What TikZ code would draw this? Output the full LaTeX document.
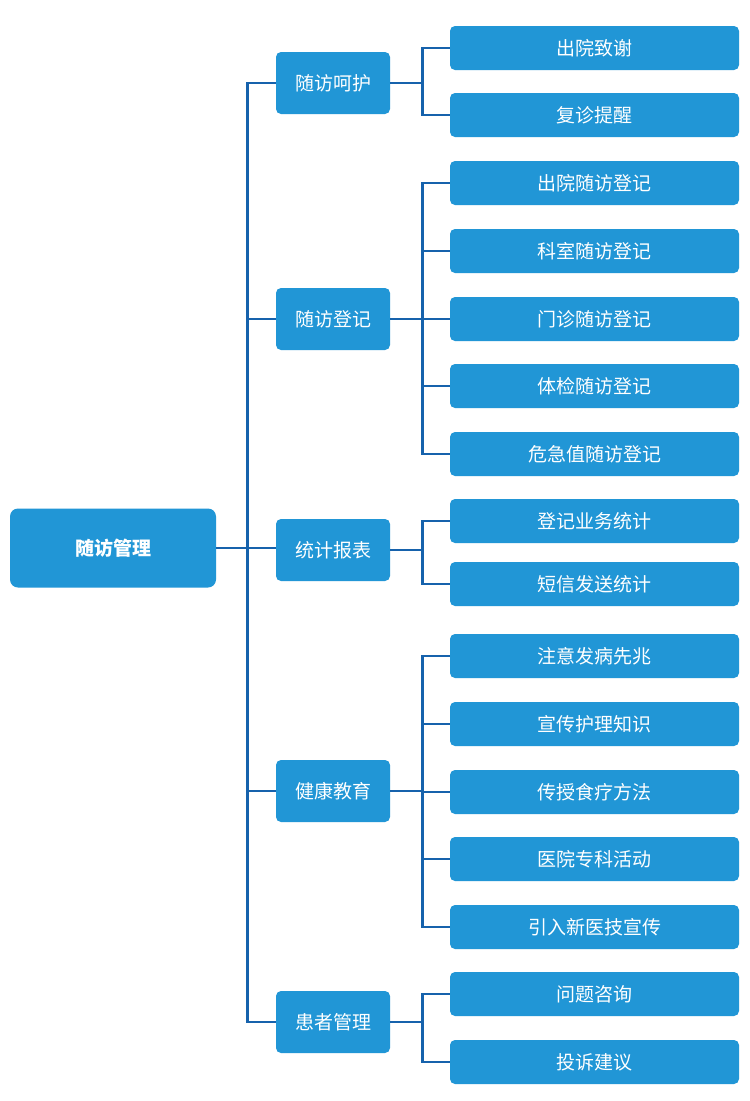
\documentclass[tikz,border=0pt]{standalone}
\usepackage{fontspec}
\newfontfamily\cjk{Noto Sans CJK SC}
\definecolor{boxblue}{RGB}{33,150,214}
\definecolor{lineblue}{RGB}{22,98,172}
\begin{document}
\begin{tikzpicture}[x=1pt,y=-1pt,
  box/.style={fill=boxblue,text=white,inner sep=0pt,font=\cjk\fontsize{19}{21}\selectfont},
  rootbox/.style={box,minimum width=206pt,minimum height=79pt,rounded corners=8pt,font=\cjk\bfseries\fontsize{19}{21}\selectfont},
  midbox/.style={box,minimum width=114pt,minimum height=62pt,rounded corners=5pt},
  leafbox/.style={box,minimum width=289pt,minimum height=44pt,rounded corners=5pt},
  conn/.style={draw=lineblue,line width=2.9pt}]
\useasboundingbox (0,0) rectangle (750,1101);
\fill[white] (0,0) rectangle (750,1101);
\node[rootbox] (root) at (113,548) {随访管理};
\node[midbox] (m1) at (333,83) {随访呵护};
\node[midbox] (m2) at (333,319) {随访登记};
\node[midbox] (m3) at (333,550) {统计报表};
\node[midbox] (m4) at (333,791) {健康教育};
\node[midbox] (m5) at (333,1022) {患者管理};
\node[leafbox] (l1) at (594.5,48) {出院致谢};
\node[leafbox] (l2) at (594.5,115) {复诊提醒};
\node[leafbox] (l3) at (594.5,183) {出院随访登记};
\node[leafbox] (l4) at (594.5,251) {科室随访登记};
\node[leafbox] (l5) at (594.5,319) {门诊随访登记};
\node[leafbox] (l6) at (594.5,386) {体检随访登记};
\node[leafbox] (l7) at (594.5,454) {危急值随访登记};
\node[leafbox] (l8) at (594.5,521) {登记业务统计};
\node[leafbox] (l9) at (594.5,584) {短信发送统计};
\node[leafbox] (l10) at (594.5,656) {注意发病先兆};
\node[leafbox] (l11) at (594.5,724) {宣传护理知识};
\node[leafbox] (l12) at (594.5,792) {传授食疗方法};
\node[leafbox] (l13) at (594.5,859) {医院专科活动};
\node[leafbox] (l14) at (594.5,927) {引入新医技宣传};
\node[leafbox] (l15) at (594.5,994) {问题咨询};
\node[leafbox] (l16) at (594.5,1062) {投诉建议};
% trunk
\draw[conn] (root.east) -- (root.east -| m3.west);
\draw[conn] (m1.west) -- ++(-28,0) |- (m5.west);
\foreach \m in {m2,m4} \draw[conn] (\m.west) -- ++(-28,0);
% branches
\foreach \m/\ls in {m1/{l1,l2},m2/{l3,l4,l5,l6,l7},m3/{l8,l9},m4/{l10,l11,l12,l13,l14},m5/{l15,l16}}{
  \foreach \l in \ls \draw[conn] (\m.east |- root.east) ++(0,0) coordinate (tmp) (\m.east) -- ++(32,0) |- (\l.west);
}
\end{tikzpicture}
\end{document}
